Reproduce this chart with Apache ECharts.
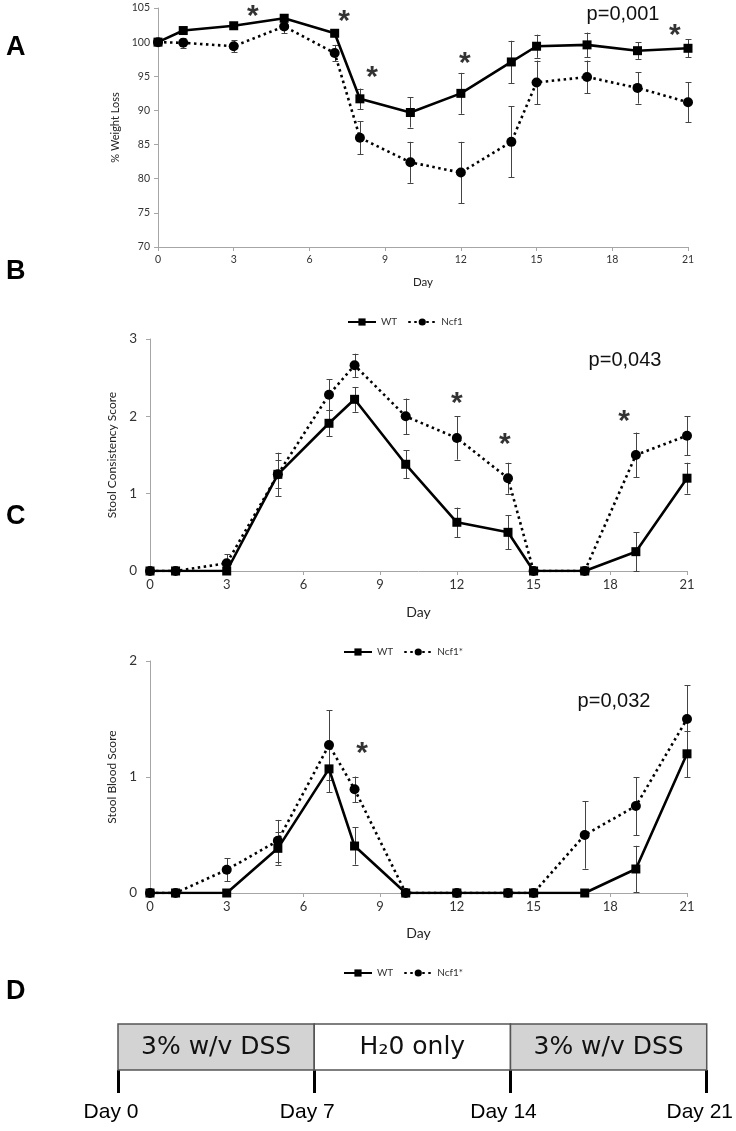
<!DOCTYPE html>
<html><head><meta charset="utf-8">
<script src="https://cdn.jsdelivr.net/npm/echarts@6/dist/echarts.min.js"></script>
<style>html,body{margin:0;padding:0;background:#fff}#c{width:736px;height:1131px}</style>
</head><body><div id="c"></div>
<script>
// ---------- data ----------
const days = [0, 1, 3, 5, 7, 8, 10, 12, 14, 15, 17, 19, 21];

// Panel A: % weight loss
const wtWeight     = [100, 101.7, 102.4, 103.5, 101.3, 91.7, 89.7, 92.5, 97.1, 99.4, 99.6, 98.75, 99.1];
const wtWeightErr  = [0, 0.3, 0.3, 0.6, 0.4, 1.5, 2.2, 3.0, 3.1, 1.7, 1.8, 1.2, 1.3];
const ncfWeight    = [100, 99.9, 99.4, 102.3, 98.4, 86.0, 82.4, 80.9, 85.4, 94.1, 94.9, 93.3, 91.2];
const ncfWeightErr = [0, 0.7, 0.9, 1.0, 1.2, 2.4, 3.0, 4.5, 5.2, 3.2, 2.4, 2.3, 2.9];
const starsA = [[3.76, 104.7], [7.37, 104.0], [8.48, 95.8], [12.16, 97.9], [20.48, 102.0]];

// Panel B: stool consistency score
const wtStool     = [0, 0, 0, 1.25, 1.91, 2.22, 1.38, 0.63, 0.5, 0, 0, 0.25, 1.2];
const wtStoolErr  = [0, 0, 0, 0.28, 0.17, 0.16, 0.18, 0.19, 0.22, 0, 0, 0.25, 0.2];
const ncfStool    = [0, 0, 0.1, 1.25, 2.28, 2.66, 2.0, 1.72, 1.2, 0, 0, 1.5, 1.75];
const ncfStoolErr = [0, 0, 0.12, 0.18, 0.2, 0.15, 0.23, 0.28, 0.2, 0, 0, 0.29, 0.25];
const starsB = [[12.0, 2.25], [13.88, 1.72], [18.54, 2.02]];

// Panel C: stool blood score
const wtBlood     = [0, 0, 0, 0.385, 1.07, 0.405, 0, 0, 0, 0, 0, 0.207, 1.2];
const wtBloodErr  = [0, 0, 0, 0.14, 0.2, 0.16, 0, 0, 0, 0, 0, 0.2, 0.2];
const ncfBlood    = [0, 0, 0.2, 0.45, 1.276, 0.894, 0, 0, 0, 0, 0.5, 0.75, 1.5];
const ncfBloodErr = [0, 0, 0.1, 0.18, 0.3, 0.11, 0, 0, 0, 0, 0.29, 0.25, 0.29];
const starsC = [[8.29, 1.26]];

const pValues = ['p=0,001', 'p=0,043', 'p=0,032'];
const panelLetters = ['A', 'B', 'C', 'D'];
const yNames = ['% Weight Loss', 'Stool Consistency Score', 'Stool Blood Score'];
const seriesNames = [['WT', 'Ncf1'], ['WT', 'Ncf1*'], ['WT', 'Ncf1*']];

// Panel D: protocol timeline
const phaseStart = [0, 7, 14];
const phaseEnd   = [7, 14, 21];
const phaseLabel = ['3% w/v DSS', 'H\u20820 only', '3% w/v DSS'];

// ---------- chart ----------
const chart = echarts.init(document.getElementById('c'), null, {renderer: 'canvas'});
const LF = 'Lato, "Open Sans", sans-serif';
const AX = '#a6a6a6';

function xAx(gi, fs, gap, show) {
  return {
    type: 'value', gridIndex: gi, min: 0, max: 21, interval: 3,
    name: 'Day', nameLocation: 'middle', nameGap: gap,
    nameTextStyle: {fontFamily: LF, fontSize: fs + 1, color: '#222'},
    axisLine: {show: true, lineStyle: {color: AX, width: 1}},
    axisTick: {show: true, length: 4, lineStyle: {color: AX}},
    axisLabel: {fontFamily: LF, fontSize: fs, color: '#333', margin: 7},
    splitLine: {show: false}
  };
}
function yAx(gi, min, max, interval, fs, name, gap, nfs) {
  return {
    type: 'value', gridIndex: gi, min, max, interval,
    name, nameLocation: 'middle', nameGap: gap,
    nameTextStyle: {fontFamily: LF, fontSize: nfs, color: '#222'},
    axisLine: {show: true, lineStyle: {color: AX, width: 1}},
    axisTick: {show: true, length: 4, lineStyle: {color: AX}},
    axisLabel: {fontFamily: LF, fontSize: fs, color: '#333', margin: fs > 12 ? 13 : 8},
    splitLine: {show: false}
  };
}

function errSeries(gi, ys, errs) {
  return {
    type: 'custom', xAxisIndex: gi, yAxisIndex: gi, z: 2, silent: true,
    encode: {x: 0, y: 1},
    data: days.map((d, i) => [d, ys[i], errs[i]]),
    renderItem(params, api) {
      const x = api.value(0), y = api.value(1), e = api.value(2);
      if (!e) return null;
      const t = api.coord([x, y + e]), b = api.coord([x, y - e]);
      const cx = Math.round(t[0]) + 0.5, w = 3;
      const st = {stroke: '#444', lineWidth: 1};
      return {type: 'group', children: [
        {type: 'line', shape: {x1: cx, y1: t[1], x2: cx, y2: b[1]}, style: st},
        {type: 'line', shape: {x1: cx - w, y1: Math.round(t[1]) + 0.5, x2: cx + w, y2: Math.round(t[1]) + 0.5}, style: st},
        {type: 'line', shape: {x1: cx - w, y1: Math.round(b[1]) + 0.5, x2: cx + w, y2: Math.round(b[1]) + 0.5}, style: st}
      ]};
    }
  };
}
function lineSeries(name, gi, ys, solid) {
  return {
    type: 'line', name, xAxisIndex: gi, yAxisIndex: gi,
    data: days.map((d, i) => [d, ys[i]]),
    symbol: solid ? 'rect' : 'circle', symbolSize: solid ? 9 : 10, showSymbol: true,
    lineStyle: {color: '#000', width: 2.6, type: solid ? 'solid' : [2.5, 3.5]},
    itemStyle: {color: '#000'}, z: solid ? 4 : 3
  };
}
function starSeries(gi, pts) {
  return {
    type: 'scatter', xAxisIndex: gi, yAxisIndex: gi, data: pts, symbolSize: 1,
    itemStyle: {color: 'rgba(0,0,0,0)'}, silent: true, z: 5,
    label: {show: true, formatter: '*', position: 'inside', offset: [0, 7],
      fontFamily: '"Liberation Sans", Arial, sans-serif', fontWeight: 'bold', fontSize: 30, color: '#000'}
  };
}
function legendFor(i, left, top) {
  return {
    data: seriesNames[i], left, top, itemWidth: 28, itemHeight: 9, itemGap: 10,
    textStyle: {fontFamily: LF, fontSize: 10, color: '#333'}, selectedMode: false
  };
}

const grids = [
  {left: 158, top: 8, width: 530, height: 239},
  {left: 150, top: 339, width: 537, height: 232},
  {left: 150, top: 661, width: 537, height: 232},
  {left: 118, top: 1024, width: 591, height: 46}
];

const letterTops = [34, 258, 503, 978];
const pPos = [[623, 14], [625, 360], [614, 701]];

const graphic = [];
panelLetters.forEach((l, i) => graphic.push({
  type: 'text', left: 6, top: letterTops[i],
  style: {text: l, font: 'bold 27px "Liberation Sans", Arial, sans-serif', fill: '#000'}
}));
pValues.forEach((p, i) => graphic.push({
  type: 'text', x: pPos[i][0], y: pPos[i][1],
  style: {text: p, align: 'center', verticalAlign: 'middle', font: '20px "Liberation Sans", Arial, sans-serif', fill: '#111'}
}));

const option = {
  animation: false,
  backgroundColor: '#fff',
  grid: grids,
  xAxis: [
    xAx(0, 10.5, 29), xAx(1, 13, 34), xAx(2, 13, 33),
    {
      type: 'value', gridIndex: 3, min: 0, max: 21, interval: 7,
      axisLine: {show: false},
      axisTick: {show: true, length: 23, lineStyle: {color: '#000', width: 3}},
      axisLabel: {formatter: v => 'Day ' + v, margin: 32, padding: [0, 14, 0, 0],
        fontFamily: '"Liberation Sans", Arial, sans-serif', fontSize: 21, color: '#000'},
      splitLine: {show: false}
    }
  ],
  yAxis: [
    yAx(0, 70, 105, 5, 10.5, yNames[0], 35, 11),
    yAx(1, 0, 3, 1, 13.5, yNames[1], 26, 12),
    yAx(2, 0, 2, 1, 13.5, yNames[2], 26, 12),
    {type: 'value', gridIndex: 3, min: 0, max: 1, show: false}
  ],
  legend: [legendFor(0, 342, 312), legendFor(1, 338, 642), legendFor(2, 338, 963)],
  graphic,
  series: [
    errSeries(0, wtWeight, wtWeightErr), errSeries(0, ncfWeight, ncfWeightErr),
    lineSeries(seriesNames[0][0], 0, wtWeight, true), lineSeries(seriesNames[0][1], 0, ncfWeight, false),
    starSeries(0, starsA),
    errSeries(1, wtStool, wtStoolErr), errSeries(1, ncfStool, ncfStoolErr),
    lineSeries(seriesNames[1][0], 1, wtStool, true), lineSeries(seriesNames[1][1], 1, ncfStool, false),
    starSeries(1, starsB),
    errSeries(2, wtBlood, wtBloodErr), errSeries(2, ncfBlood, ncfBloodErr),
    lineSeries(seriesNames[2][0], 2, wtBlood, true), lineSeries(seriesNames[2][1], 2, ncfBlood, false),
    starSeries(2, starsC),
    {
      type: 'custom', xAxisIndex: 3, yAxisIndex: 3, silent: true,
      encode: {x: [0, 1]},
      data: phaseStart.map((s, i) => [s, phaseEnd[i], phaseLabel[i]]),
      renderItem(params, api) {
        const s = api.value(0), e = api.value(1), lab = phaseLabel[params.dataIndex];
        const p0 = api.coord([s, 1]), p1 = api.coord([e, 0]);
        const fill = lab.indexOf('DSS') >= 0 ? '#d3d3d3' : '#ffffff';
        return {type: 'group', children: [
          {type: 'rect', shape: {x: p0[0], y: p0[1], width: p1[0] - p0[0], height: p1[1] - p0[1]},
            style: {fill, stroke: '#555', lineWidth: 1.5}},
          {type: 'text', x: (p0[0] + p1[0]) / 2, y: (p0[1] + p1[1]) / 2,
            style: {text: lab, align: 'center', verticalAlign: 'middle',
              font: '25px "DejaVu Sans", sans-serif', fill: '#111'}}
        ]};
      }
    }
  ]
};
chart.setOption(option);
</script>
</body></html>
